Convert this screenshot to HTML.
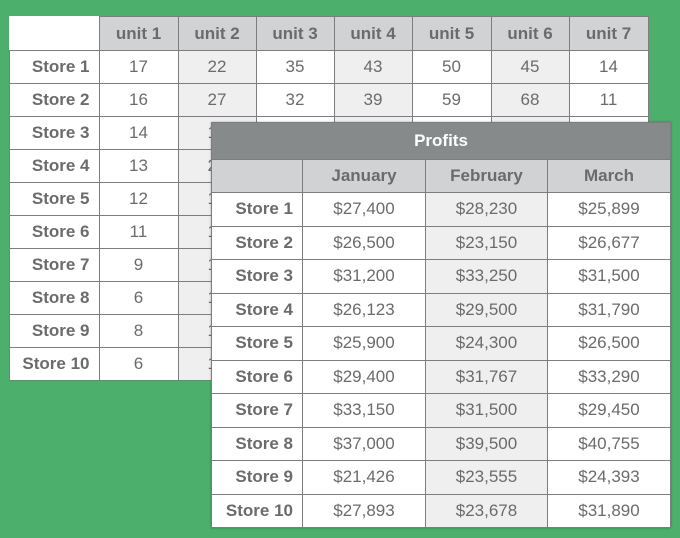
<!DOCTYPE html>
<html><head><meta charset="utf-8">
<style>
html,body{margin:0;padding:0}
body{width:680px;height:538px;background:#4caf6c;position:relative;overflow:hidden;font-family:"Liberation Sans",sans-serif;color:#6b6b6b}
table{position:absolute;border-collapse:collapse;table-layout:fixed;background:#fff}
td{border:1px solid #7d7d7d;text-align:center;font-size:17px;padding:0;white-space:nowrap;overflow:hidden}
td.lab{font-weight:bold;text-align:right;padding-right:9px}
td.hd{background:#d1d2d4;font-weight:bold}
td.alt{background:#efefef}
td.corner{border-top:none;border-left:none;background:#fff}
#t1{left:9px;top:16px}
#t2{left:211px;top:122px;box-shadow:0 0 2px rgba(0,0,0,.3)}
td.title{background:#878a8b;color:#fff;font-weight:bold;height:36px;text-align:center;padding-left:0}
</style></head>
<body>
<table id="t1"></table>
<table id="t2"></table>
<script>
const stores=["Store 1","Store 2","Store 3","Store 4","Store 5","Store 6","Store 7","Store 8","Store 9","Store 10"];
const units=["unit 1","unit 2","unit 3","unit 4","unit 5","unit 6","unit 7"];
const unitVals=[[17,22,35,43,50,45,14],[16,27,32,39,59,68,11],[14,18,30,36,48,52,12],[13,21,29,35,47,50,10],[12,19,28,33,45,48,9],[11,17,26,31,42,46,8],[9,15,24,30,40,44,7],[6,13,22,28,38,41,6],[8,14,23,29,39,43,7],[6,12,21,27,36,40,5]];
const months=["January","February","March"];
const profits=[["$27,400","$28,230","$25,899"],["$26,500","$23,150","$26,677"],["$31,200","$33,250","$31,500"],["$26,123","$29,500","$31,790"],["$25,900","$24,300","$26,500"],["$29,400","$31,767","$33,290"],["$33,150","$31,500","$29,450"],["$37,000","$39,500","$40,755"],["$21,426","$23,555","$24,393"],["$27,893","$23,678","$31,890"]];

function cell(tr,txt,cls,w){const td=document.createElement('td');td.textContent=txt;if(cls)td.className=cls;if(w)td.style.width=w+'px';tr.appendChild(td);return td;}

const t1=document.getElementById('t1');
const w1=[89,78,77,77,77,78,77,78];
let tr=document.createElement('tr');tr.style.height='34px';
let c=cell(tr,'','corner',w1[0]);


units.forEach((u,i)=>{const h=cell(tr,u,'hd',w1[i+1]);

});
t1.appendChild(tr);
stores.forEach((s,r)=>{const row=document.createElement('tr');row.style.height='33px';


cell(row,s,'lab');
unitVals[r].forEach((v,i)=>{cell(row,v,i%2==1?'alt':'');});
t1.appendChild(row);});

const t2=document.getElementById('t2');
const w2=[90,122,121,122];
tr=document.createElement('tr');
c=cell(tr,'Profits','title');c.colSpan=4;


t2.appendChild(tr);
tr=document.createElement('tr');tr.style.height='33px';
cell(tr,'','hd',w2[0]);
months.forEach((m,i)=>{const h=cell(tr,m,'hd',w2[i+1]);

});
t2.appendChild(tr);
stores.forEach((s,r)=>{const row=document.createElement('tr');row.style.height='33.5px';


cell(row,s,'lab');
profits[r].forEach((v,i)=>{cell(row,v,i==1?'alt':'');});
t2.appendChild(row);});
</script>
</body></html>
